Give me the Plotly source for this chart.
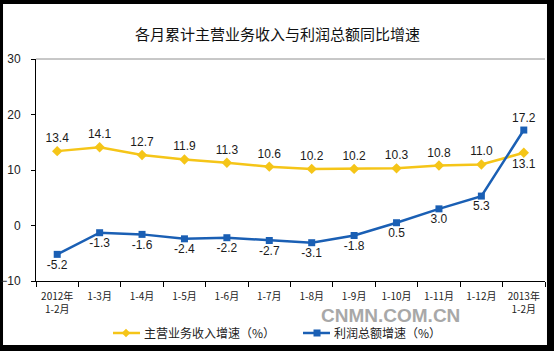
import plotly.graph_objects as go

categories = ["2012年<br>1-2月", "1-3月", "1-4月", "1-5月", "1-6月", "1-7月", "1-8月",
              "1-9月", "1-10月", "1-11月", "1-12月", "2013年<br>1-2月"]
revenue = [13.4, 14.1, 12.7, 11.9, 11.3, 10.6, 10.2, 10.2, 10.3, 10.8, 11.0, 13.1]
profit = [-5.2, -1.3, -1.6, -2.4, -2.2, -2.7, -3.1, -1.8, 0.5, 3.0, 5.3, 17.2]
rev_name = "主营业务收入增速（%）"
prof_name = "利润总额增速（%）"
title = "各月累计主营业务收入与利润总额同比增速"

YELLOW = "#F5C518"
BLUE = "#1A5FB4"
CJK = "Noto Sans CJK SC"
LAT = "Liberation Sans"

rev_pos = ["top center"] * (len(revenue) - 1) + ["bottom center"]
prof_pos = ["bottom center"] * (len(profit) - 1) + ["top center"]

fig = go.Figure()
fig.add_trace(go.Scatter(
    x=categories, y=revenue, name=rev_name, mode="lines+markers+text",
    line=dict(color=YELLOW, width=2.5),
    marker=dict(symbol="diamond", size=8, color=YELLOW),
    text=[f"{v:.1f}" for v in revenue], textposition=rev_pos,
    textfont=dict(family=LAT, size=12, color="#1a1a1a"),
    cliponaxis=False, showlegend=False,
))
fig.add_trace(go.Scatter(
    x=categories, y=profit, name=prof_name, mode="lines+markers+text",
    line=dict(color=BLUE, width=2.5),
    marker=dict(symbol="square", size=7, color=BLUE),
    text=[f"{v:.1f}" for v in profit], textposition=prof_pos,
    textfont=dict(family=LAT, size=12, color="#1a1a1a"),
    cliponaxis=False, showlegend=False,
))

# white panel inside black frame
fig.add_shape(type="rect", xref="paper", yref="paper",
              x0=-0.0648, x1=1.0039, y0=-0.2883, y1=1.2477,
              fillcolor="white", line=dict(width=0), layer="below")
# top border line of plot area
fig.add_shape(type="line", xref="paper", yref="paper", x0=0, x1=1, y0=1, y1=1,
              line=dict(color="#909090", width=1))

# manual legend
ly = -0.2342
dx_d, dy_d = 0.0084, 0.019
dx_s, dy_s = 0.0069, 0.0158
fig.add_shape(type="line", xref="paper", yref="paper", x0=0.1513, x1=0.2043, y0=ly, y1=ly,
              line=dict(color=YELLOW, width=2.5))
cx = 0.1768
fig.add_shape(type="path", xref="paper", yref="paper",
              path=f"M {cx-dx_d} {ly} L {cx} {ly+dy_d} L {cx+dx_d} {ly} L {cx} {ly-dy_d} Z",
              fillcolor=YELLOW, line=dict(width=0))
fig.add_annotation(text=rev_name, xref="paper", yref="paper", x=0.2083, y=ly,
                   xanchor="left", yanchor="middle", showarrow=False,
                   font=dict(family=CJK, size=12, color="#222"))
fig.add_shape(type="line", xref="paper", yref="paper", x0=0.5246, x1=0.5776, y0=ly, y1=ly,
              line=dict(color=BLUE, width=2.5))
cx = 0.5521
fig.add_shape(type="rect", xref="paper", yref="paper",
              x0=cx - dx_s, x1=cx + dx_s, y0=ly - dy_s, y1=ly + dy_s,
              fillcolor=BLUE, line=dict(width=0))
fig.add_annotation(text=prof_name, xref="paper", yref="paper", x=0.5815, y=ly,
                   xanchor="left", yanchor="middle", showarrow=False,
                   font=dict(family=CJK, size=12, color="#222"))

fig.add_annotation(text=title, xref="paper", yref="paper", x=0.4735, y=1.117,
                   xanchor="center", yanchor="middle",
                   showarrow=False, font=dict(family=CJK, size=15, color="#111"))
fig.add_annotation(text="<b>CNMN.COM.CN</b>", xref="paper", yref="paper",
                   x=0.6974, y=-0.157, xanchor="center", yanchor="middle",
                   showarrow=False,
                   font=dict(family=LAT, size=19, color="#a8a8a8"))

fig.update_layout(
    width=554, height=351,
    margin=dict(l=36, r=9, t=59, b=70),
    paper_bgcolor="black", plot_bgcolor="white",
    showlegend=False,
    xaxis=dict(type="category", range=[-0.5, 11.5], tickson="boundaries",
               ticks="outside", ticklen=5, tickcolor="black", automargin=False,
               showline=True, linecolor="black", linewidth=1, showgrid=False,
               ticklabelstandoff=6,
               tickfont=dict(family=CJK, size=10, color="#222"), tickangle=0),
    yaxis=dict(range=[-10, 30], dtick=10, ticks="outside", ticklen=4,
               tickcolor="black", showline=True, linecolor="black", linewidth=1,
               showgrid=False, zeroline=False, automargin=False,
               ticklabelstandoff=8,
               tickfont=dict(family=LAT, size=12, color="#222")),
)

fig.write_html("out.html")
